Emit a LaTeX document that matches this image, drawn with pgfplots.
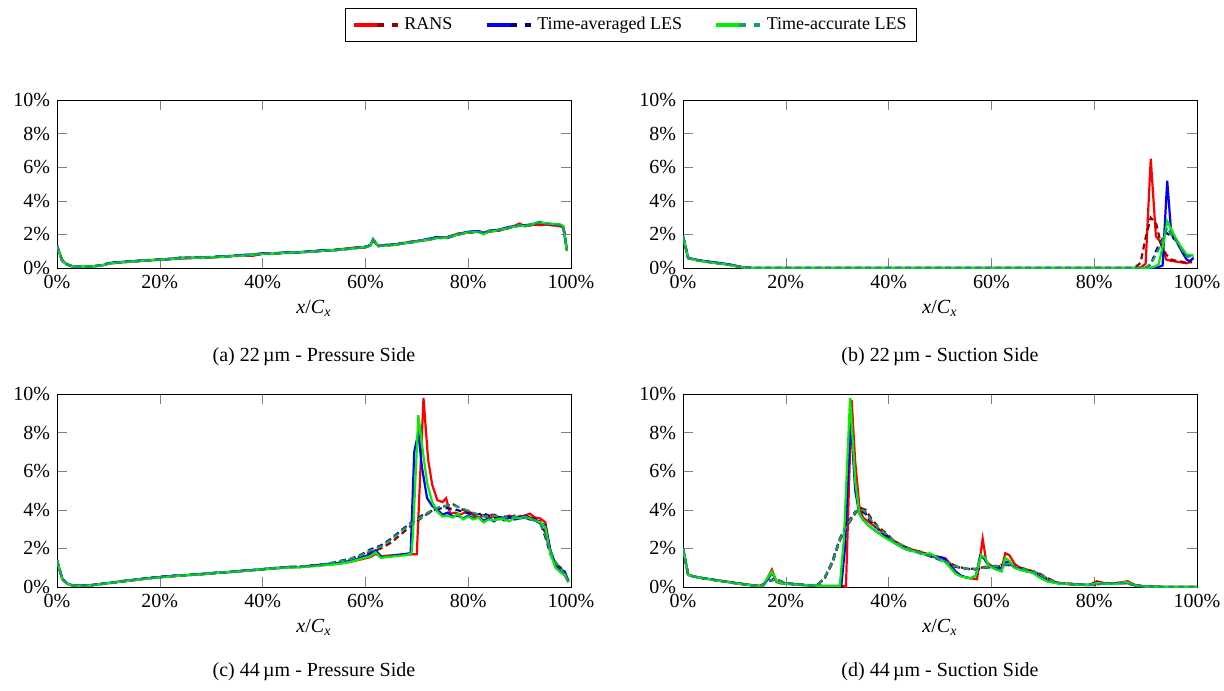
\documentclass[border=0pt]{standalone}
\usepackage{fontspec}
\setmainfont{Liberation Serif}
\usepackage{pgfplots}
\usepackage{pgfplotstable}
\pgfplotsset{compat=1.18}

\definecolor{rdark}{RGB}{150,0,0}
\definecolor{bdark}{RGB}{0,0,140}
\definecolor{gdark}{RGB}{20,160,100}
\definecolor{gbright}{RGB}{0,240,0}

\pgfplotsset{
  rs/.style={red, line width=1.1pt},
  rd/.style={rdark, line width=1.1pt, dash pattern=on 3pt off 2pt},
  bs/.style={blue, line width=1.1pt},
  bd/.style={bdark, line width=1.1pt, dash pattern=on 3pt off 2pt},
  gs/.style={gbright, line width=1.1pt},
  gd/.style={gdark, line width=1.1pt, dash pattern=on 3pt off 2pt},
  panel/.style={
    scale only axis,
    width=257pt,
    xmin=0, xmax=100, ymin=0, ymax=10,
    xtick={0,20,40,60,80,100},
    ytick={0,2,4,6,8,10},
    xticklabel={\pgfmathprintnumber{\tick}\%},
    yticklabel={\pgfmathprintnumber{\tick}\%},
    /pgf/number format/assume math mode=true,
    tick style={gray},
    major tick length=5pt,
    xlabel={\textit{x}/\textit{C}\textsubscript{\textit{x}}},
    xlabel style={yshift=1pt},
    tick label style={font=\normalsize},
    every axis plot/.append style={forget plot},
  },
}

% legend marker: bright solid part, then two short dark dashes
\newcommand{\legimg}[2]{%
  \draw[#1, line width=2.4pt] (0pt,0pt) -- (11.5pt,0pt);
  \draw[#2, line width=2.4pt] (11.5pt,0pt) -- (15pt,0pt);
  \draw[#2, line width=2.4pt] (19pt,0pt) -- (22pt,0pt);}

% panel (a): all six series on one grid
\pgfplotstableread{
x r rd b bd g gd
0 1.30 1.25 1.35 1.30 1.28 1.32
1 0.45 0.48 0.42 0.46 0.44 0.47
2 0.20 0.22 0.19 0.21 0.20 0.22
3 0.10 0.11 0.09 0.10 0.10 0.11
4 0.07 0.08 0.06 0.07 0.07 0.08
5 0.07 0.07 0.06 0.08 0.07 0.07
6 0.08 0.09 0.08 0.08 0.09 0.08
7 0.10 0.11 0.10 0.12 0.10 0.11
8 0.13 0.12 0.14 0.13 0.12 0.13
9 0.18 0.20 0.17 0.19 0.18 0.19
10 0.30 0.27 0.25 0.29 0.26 0.28
11 0.28 0.31 0.34 0.30 0.30 0.32
12 0.32 0.33 0.35 0.34 0.33 0.32
14 0.36 0.39 0.40 0.38 0.37 0.39
16 0.43 0.41 0.42 0.44 0.42 0.41
18 0.47 0.45 0.46 0.48 0.46 0.47
20 0.50 0.52 0.49 0.51 0.50 0.50
22 0.52 0.55 0.54 0.53 0.53 0.54
24 0.56 0.58 0.62 0.60 0.57 0.59
26 0.58 0.61 0.60 0.62 0.60 0.61
28 0.63 0.60 0.65 0.63 0.62 0.64
30 0.62 0.65 0.64 0.66 0.64 0.63
32 0.66 0.68 0.69 0.67 0.67 0.68
34 0.72 0.70 0.71 0.73 0.70 0.72
36 0.75 0.73 0.78 0.76 0.74 0.75
38 0.72 0.79 0.80 0.78 0.79 0.77
40 0.85 0.83 0.88 0.86 0.84 0.85
42 0.83 0.86 0.84 0.87 0.85 0.84
44 0.90 0.88 0.93 0.91 0.89 0.90
46 0.93 0.91 0.90 0.94 0.92 0.93
48 0.94 0.96 0.97 0.95 0.95 0.94
50 1.00 0.97 0.99 1.01 0.98 0.99
52 1.04 1.02 1.07 1.05 1.03 1.04
54 1.08 1.06 1.05 1.09 1.07 1.06
56 1.15 1.11 1.13 1.12 1.12 1.13
58 1.22 1.17 1.19 1.20 1.18 1.19
60 1.22 1.26 1.24 1.27 1.25 1.24
61 1.35 1.33 1.38 1.36 1.34 1.37
61.5 1.65 1.62 1.72 1.68 1.70 1.66
62.5 1.32 1.29 1.30 1.33 1.31 1.30
64 1.34 1.36 1.38 1.32 1.33 1.35
66 1.38 1.42 1.40 1.43 1.39 1.41
68 1.52 1.48 1.50 1.53 1.49 1.51
70 1.60 1.57 1.59 1.61 1.58 1.60
72 1.66 1.70 1.72 1.68 1.67 1.69
74 1.80 1.76 1.85 1.79 1.78 1.80
76 1.84 1.82 1.78 1.85 1.81 1.83
78 2.05 1.98 2.00 2.02 1.99 2.01
80 2.13 2.10 2.16 2.12 2.11 2.14
82 2.16 2.14 2.20 2.17 2.15 2.16
83 2.05 2.10 2.08 2.12 2.00 2.09
84 2.16 2.19 2.22 2.18 2.17 2.20
86 2.22 2.26 2.28 2.24 2.25 2.27
88 2.38 2.42 2.45 2.40 2.39 2.41
90 2.65 2.52 2.50 2.55 2.53 2.56
91 2.48 2.50 2.55 2.52 2.49 2.51
92 2.55 2.53 2.58 2.56 2.54 2.57
93 2.58 2.63 2.66 2.62 2.68 2.64
94 2.55 2.68 2.72 2.75 2.72 2.70
95 2.58 2.62 2.65 2.64 2.66 2.63
96 2.55 2.60 2.62 2.61 2.64 2.60
97 2.52 2.57 2.60 2.58 2.62 2.59
98 2.48 2.54 2.56 2.55 2.58 2.56
98.5 2.40 2.45 2.48 2.46 2.50 2.47
99.2 1.05 1.10 1.08 1.12 1.00 1.06
}\tablea

% panel (c): dashed series
\pgfplotstableread{
x rd bd gd
0 1.40 1.35 1.38
1 0.40 0.45 0.42
2 0.15 0.18 0.16
3 0.08 0.10 0.09
5 0.06 0.07 0.06
7 0.10 0.11 0.10
9 0.16 0.18 0.17
11 0.22 0.24 0.23
13 0.30 0.32 0.28
15 0.36 0.38 0.37
17 0.42 0.44 0.43
19 0.48 0.50 0.49
21 0.54 0.55 0.53
23 0.56 0.60 0.58
25 0.62 0.61 0.63
27 0.63 0.66 0.65
29 0.70 0.68 0.69
31 0.72 0.75 0.73
33 0.76 0.77 0.78
35 0.82 0.80 0.81
37 0.85 0.87 0.86
39 0.90 0.88 0.91
41 0.94 0.96 0.95
43 0.98 1.00 0.99
45 1.05 1.03 1.04
47 1.02 1.05 1.06
49 1.10 1.08 1.09
51 1.15 1.17 1.14
53 1.22 1.20 1.24
55 1.30 1.35 1.32
57 1.42 1.45 1.44
59 1.60 1.65 1.62
61 1.80 1.95 1.90
63 2.00 2.15 2.10
65 2.30 2.50 2.45
67 2.75 2.95 2.90
69 3.20 3.35 3.30
71 3.60 3.70 3.65
73 3.95 3.95 4.00
75 4.15 4.10 4.20
77 4.30 4.05 4.25
79 4.00 3.90 4.05
81 3.80 3.75 3.85
83 3.70 3.80 3.65
85 3.75 3.60 3.70
87 3.55 3.65 3.60
89 3.70 3.60 3.65
91 3.65 3.70 3.60
93 3.55 3.50 3.45
94 3.40 3.35 3.30
95 2.80 2.60 2.70
96 1.80 1.70 1.90
97 1.20 1.10 1.30
98 1.00 0.90 0.95
99.5 0.30 0.35 0.30
}\tablecd

\begin{document}
\begin{tikzpicture}
\path[use as bounding box] (0,0) rectangle (612pt,-345pt);

% ---------- (a) ----------
\begin{axis}[panel, height=84pt, at={(28.5pt,-134pt)}, anchor=south west,
  legend columns=3,
  legend style={at={(1.117,1.446)}, anchor=center, draw=black,
    font=\small, inner xsep=3pt, inner ysep=2.5pt,
    /tikz/every even column/.append style={column sep=14pt}},
  legend cell align={left}]
\addplot[rs] table[x=x,y=r] {\tablea};
\addplot[rd] table[x=x,y=rd] {\tablea};
\addplot[bs] table[x=x,y=b] {\tablea};
\addplot[bd] table[x=x,y=bd] {\tablea};
\addplot[gs] table[x=x,y=g] {\tablea};
\addplot[gd] table[x=x,y=gd] {\tablea};

\addlegendimage{legend image code/.code={\legimg{red}{rdark}}}
\addlegendentry{RANS}
\addlegendimage{legend image code/.code={\legimg{blue}{bdark}}}
\addlegendentry{Time-averaged LES}
\addlegendimage{legend image code/.code={\legimg{gbright}{gdark}}}
\addlegendentry{Time-accurate LES}
\end{axis}

% ---------- (b) ----------
\begin{axis}[panel, height=84pt, at={(341.5pt,-134pt)}, anchor=south west]
\addplot[rs] coordinates {(0,1.9) (1,0.6) (2,0.52) (3,0.45) (4,0.40) (5,0.36) (6,0.32) (7,0.28) (8,0.24) (9,0.20) (10,0.14) (11,0.08) (12,0.02) (14,0) (88,0) (89,0.02) (90,0.25) (91,6.5) (92,1.9) (93,1.5) (94,0.5) (95,0.42) (96,0.38) (97,0.33) (98,0.28) (99,0.4)};
\addplot[rd] coordinates {(0,1.85) (1,0.62) (2,0.5) (3,0.44) (4,0.40) (5,0.35) (6,0.31) (7,0.27) (8,0.23) (9,0.19) (10,0.13) (11,0.07) (12,0.02) (14,0) (87,0) (88,0.05) (89,0.3) (90,1.8) (91,3.0) (92,2.7) (93,1.4) (94,0.8) (95,0.5) (96,0.42) (97,0.38) (98,0.3) (99,0.35)};
\addplot[bs] coordinates {(0,1.9) (1,0.58) (2,0.53) (3,0.47) (4,0.42) (5,0.38) (6,0.34) (7,0.30) (8,0.26) (9,0.21) (10,0.15) (11,0.08) (12,0.02) (14,0) (92,0) (93.3,0.15) (94.2,5.2) (95,2.0) (96,1.6) (97,1.0) (98,0.5) (98.6,0.4) (99.3,0.6)};
\addplot[bd] coordinates {(0,1.88) (1,0.6) (2,0.52) (3,0.46) (4,0.41) (5,0.37) (6,0.33) (7,0.29) (8,0.25) (9,0.2) (10,0.14) (11,0.07) (12,0.02) (14,0) (90,0) (91,0.2) (92,1.0) (93,1.6) (94,2.1) (95,1.9) (96,1.6) (97,1.1) (98,0.7) (99.3,0.65)};
\addplot[gs] coordinates {(0,1.9) (1,0.6) (2,0.5) (3,0.44) (4,0.39) (5,0.35) (6,0.3) (7,0.26) (8,0.22) (9,0.18) (10,0.12) (11,0.06) (12,0.02) (14,0) (90,0) (91.5,0.05) (92.5,0.2) (93.5,1.5) (94.2,2.8) (95,2.3) (96,1.7) (97,1.2) (98,0.8) (99.3,0.75)};
\addplot[gd] coordinates {(0,1.88) (1,0.6) (2,0.51) (3,0.45) (4,0.4) (5,0.36) (6,0.31) (7,0.27) (8,0.23) (9,0.19) (10,0.13) (11,0.07) (12,0.02) (14,0) (89.5,0) (90.5,0.1) (91.5,0.5) (92.5,1.1) (93.5,1.8) (94.2,2.4) (95,2.0) (96,1.6) (97,1.1) (98,0.7) (99.3,0.7)};
\end{axis}

% ---------- (c) ----------
\begin{axis}[panel, height=96.5pt, at={(28.5pt,-293.5pt)}, anchor=south west]
\addplot[rs] coordinates {(0,1.4) (1,0.42) (2,0.16) (3,0.08) (5,0.06) (7,0.10) (9,0.17) (11,0.23) (13,0.30) (15,0.37) (17,0.43) (19,0.48) (21,0.54) (23,0.57) (25,0.61) (27,0.64) (29,0.68) (31,0.72) (33,0.77) (35,0.80) (37,0.85) (39,0.90) (41,0.94) (43,0.97) (45,1.02) (47,1.04) (49,1.07) (51,1.12) (53,1.17) (55,1.22) (57,1.30) (59,1.42) (61,1.55) (62,1.72) (63,1.55) (64,1.62) (66,1.66) (68,1.68) (70,1.70) (71.3,9.8) (72.2,6.6) (73,5.3) (74,4.5) (75,4.4) (75.7,4.6) (76.5,3.8) (77.5,3.85) (78.5,3.75) (80,3.95) (81,3.7) (82,3.6) (83,3.7) (84,3.55) (85,3.65) (86,3.5) (87,3.6) (88,3.7) (89,3.55) (90,3.6) (91,3.7) (92,3.8) (93,3.6) (94,3.55) (95,3.35) (96,1.8) (97,1.0) (98,0.8) (98.8,0.6) (99.5,0.25)};
\addplot[rd] table[x=x,y=rd] {\tablecd};
\addplot[bs] coordinates {(0,1.38) (1,0.44) (2,0.17) (3,0.09) (5,0.07) (7,0.11) (9,0.18) (11,0.24) (13,0.31) (15,0.36) (17,0.44) (19,0.49) (21,0.53) (23,0.58) (25,0.62) (27,0.65) (29,0.69) (31,0.74) (33,0.76) (35,0.81) (37,0.86) (39,0.89) (41,0.95) (43,0.99) (45,1.04) (47,1.03) (49,1.09) (51,1.14) (53,1.18) (55,1.25) (57,1.35) (59,1.5) (61,1.7) (62,1.9) (63,1.6) (64,1.55) (66,1.65) (68,1.72) (68.8,1.75) (69.5,7.0) (70.3,8.0) (71,6.2) (72,4.6) (73,4.2) (74,4.0) (75,3.75) (76,3.85) (77,3.65) (78,3.7) (79,3.55) (80,3.7) (81,3.55) (82,3.6) (83,3.45) (84,3.55) (85,3.4) (86,3.6) (87,3.45) (88,3.6) (89,3.5) (90,3.55) (91,3.6) (92,3.5) (93,3.45) (94,3.3) (95,3.2) (96,1.9) (97,1.1) (98,0.9) (98.8,0.8) (99.5,0.3)};
\addplot[bd] table[x=x,y=bd] {\tablecd};
\addplot[gs] coordinates {(0,1.39) (1,0.43) (2,0.16) (3,0.08) (5,0.06) (7,0.10) (9,0.17) (11,0.23) (13,0.29) (15,0.37) (17,0.42) (19,0.48) (21,0.52) (23,0.57) (25,0.61) (27,0.64) (29,0.68) (31,0.73) (33,0.77) (35,0.80) (37,0.84) (39,0.90) (41,0.93) (43,0.98) (45,1.01) (47,1.02) (49,1.06) (51,1.10) (53,1.15) (55,1.20) (57,1.30) (59,1.45) (61,1.6) (62,1.8) (63,1.5) (64,1.55) (66,1.6) (68,1.65) (69,1.75) (69.3,3.0) (70.3,8.9) (71,7.4) (72,5.4) (73,4.4) (74,3.9) (75,3.65) (76,3.7) (77,3.6) (78,3.8) (79,3.5) (80,3.65) (81,3.5) (82,3.6) (83,3.35) (84,3.5) (85,3.45) (86,3.55) (87,3.5) (88,3.4) (89,3.6) (90,3.55) (91,3.65) (92,3.55) (93,3.45) (94,3.35) (95,3.1) (96,1.7) (97,1.0) (98,0.75) (98.8,0.65) (99.5,0.25)};
\addplot[gd] table[x=x,y=gd] {\tablecd};
\end{axis}

% ---------- (d) ----------
\begin{axis}[panel, height=96.5pt, at={(341.5pt,-293.5pt)}, anchor=south west]
\addplot[rs] coordinates {(0,2.0) (1,0.65) (2,0.55) (4,0.45) (6,0.38) (8,0.30) (10,0.22) (12,0.15) (14,0.08) (15.5,0.05) (16.5,0.5) (17.3,0.9) (18.2,0.25) (19,0.2) (21,0.15) (23,0.12) (25,0.08) (27,0.06) (29,0.05) (31.5,0.05) (31.7,0) (32.8,9.7) (33.5,6.5) (34.3,4.2) (35,3.6) (36,3.4) (37,3.2) (38,3.0) (39,2.8) (40,2.6) (41,2.4) (42,2.25) (43,2.1) (44,2.0) (45,1.9) (46,1.85) (47,1.75) (48,1.65) (49,1.55) (50,1.55) (51,1.5) (52,1.2) (53,0.8) (54,0.6) (55,0.5) (56,0.45) (57.2,0.4) (58.3,2.5) (59,1.3) (60,1.1) (61,1.0) (62,0.95) (62.7,1.75) (63.5,1.65) (64.5,1.2) (65.5,1.0) (67,0.9) (68,0.8) (69,0.6) (70,0.45) (71,0.3) (73,0.2) (75,0.15) (77,0.12) (79,0.1) (80.5,0.3) (82,0.2) (84,0.2) (85.5,0.25) (86.5,0.3) (88,0.1) (90,0.02) (95,0) (100,0)};
\addplot[rd] coordinates {(0,2.0) (1,0.65) (2,0.55) (4,0.45) (6,0.37) (8,0.29) (10,0.21) (12,0.14) (14,0.07) (15,0.05) (16.5,0.3) (18,0.45) (19,0.3) (20,0.2) (22,0.15) (24,0.1) (26,0.08) (27.5,0.4) (29,1.2) (30.5,2.4) (32,3.2) (33.5,3.8) (34.5,4.1) (35.5,4.0) (36.5,3.6) (38,3.1) (39.5,2.8) (41,2.4) (43,2.1) (45,1.9) (47,1.75) (49,1.55) (51,1.35) (53,1.1) (55,0.95) (57,0.95) (59,1.05) (61,1.1) (63,1.2) (65,1.05) (67,0.9) (69,0.75) (71,0.45) (73,0.22) (75,0.18) (78,0.12) (80,0.12) (82,0.2) (84,0.2) (86,0.22) (88,0.1) (90,0.02) (95,0) (100,0)};
\addplot[bs] coordinates {(0,2.0) (1,0.62) (2,0.55) (4,0.46) (6,0.37) (8,0.29) (10,0.21) (12,0.14) (14,0.07) (15.5,0.05) (16.5,0.4) (17.3,0.75) (18.2,0.3) (19,0.2) (21,0.15) (23,0.1) (25,0.08) (27,0.06) (29,0.05) (30.8,0.05) (31.5,2.0) (32.6,8.8) (33.5,5.0) (34.3,3.8) (35,3.5) (36,3.2) (37,3.0) (38,2.8) (39,2.7) (40,2.5) (41,2.3) (42,2.15) (43,2.0) (44,1.9) (45,1.85) (46,1.75) (47,1.7) (48,1.6) (49,1.6) (50,1.55) (51,1.45) (52,1.1) (53,0.8) (54,0.6) (55,0.5) (56,0.45) (57,0.6) (57.8,1.6) (58.5,1.5) (59.5,1.1) (61,0.9) (62,1.0) (62.7,1.3) (63.5,1.3) (64.5,1.0) (66,0.9) (67,0.8) (68,0.75) (69,0.6) (70,0.45) (71,0.3) (73,0.2) (75,0.15) (77,0.12) (79,0.1) (80.5,0.22) (82,0.2) (84,0.18) (86,0.22) (87,0.2) (88,0.08) (90,0.02) (95,0) (100,0)};
\addplot[bd] coordinates {(0,1.98) (1,0.63) (2,0.54) (4,0.44) (6,0.36) (8,0.28) (10,0.2) (12,0.13) (14,0.06) (15,0.05) (16.5,0.28) (18,0.4) (19,0.28) (20,0.2) (22,0.14) (24,0.1) (26,0.09) (27.5,0.45) (29,1.3) (30.5,2.5) (32,3.3) (33.5,3.9) (34.5,4.0) (35.5,3.8) (36.5,3.4) (38,3.0) (39.5,2.7) (41,2.35) (43,2.1) (45,1.85) (47,1.7) (49,1.5) (51,1.3) (53,1.05) (55,0.95) (57,0.9) (59,1.0) (61,1.05) (63,1.15) (65,1.0) (67,0.85) (69,0.7) (71,0.4) (73,0.2) (75,0.16) (78,0.12) (80,0.1) (82,0.18) (84,0.18) (86,0.2) (88,0.08) (90,0.02) (95,0) (100,0)};
\addplot[gs] coordinates {(0,2.0) (1,0.63) (2,0.55) (4,0.45) (6,0.36) (8,0.28) (10,0.2) (12,0.13) (14,0.06) (15.5,0.05) (16.5,0.5) (17.3,0.8) (18.2,0.3) (19,0.2) (21,0.15) (23,0.1) (25,0.08) (27,0.06) (29,0.05) (30.5,0.05) (31.3,2.5) (32.5,9.8) (33.5,5.5) (34.3,3.8) (35,3.5) (36,3.2) (37,3.0) (38,2.8) (39,2.6) (40,2.45) (41,2.3) (42,2.15) (43,2.0) (44,1.9) (45,1.85) (46,1.75) (47,1.7) (48,1.75) (49,1.6) (50,1.4) (51,1.3) (52,1.0) (53,0.7) (54,0.55) (55,0.5) (56,0.45) (57,0.6) (58,1.65) (58.8,1.5) (59.5,1.1) (61,0.9) (62,0.8) (62.7,1.5) (63.5,1.35) (64.5,1.0) (66,0.85) (67,0.8) (68,0.75) (69,0.55) (70,0.4) (71,0.28) (73,0.18) (75,0.15) (77,0.12) (79,0.1) (80.5,0.2) (82,0.18) (84,0.15) (86,0.25) (87,0.2) (88,0.08) (90,0.02) (95,0) (100,0)};
\addplot[gd] coordinates {(0,1.99) (1,0.64) (2,0.55) (4,0.45) (6,0.37) (8,0.28) (10,0.21) (12,0.14) (14,0.07) (15,0.05) (16.5,0.3) (18,0.42) (19,0.3) (20,0.2) (22,0.15) (24,0.1) (26,0.08) (27.5,0.42) (29,1.25) (30.5,2.45) (32,3.25) (33.5,3.85) (34.5,4.05) (35.5,3.9) (36.5,3.5) (38,3.05) (39.5,2.75) (41,2.4) (43,2.1) (45,1.88) (47,1.72) (49,1.52) (51,1.32) (53,1.08) (55,0.95) (57,0.92) (59,1.02) (61,1.08) (63,1.18) (65,1.02) (67,0.88) (69,0.72) (71,0.42) (73,0.21) (75,0.17) (78,0.12) (80,0.11) (82,0.19) (84,0.19) (86,0.21) (88,0.09) (90,0.02) (95,0) (100,0)};
\end{axis}

% captions
\node at (157pt,-178.5pt) {(a) 22\,µm - Pressure Side};
\node at (470pt,-178.5pt) {(b) 22\,µm - Suction Side};
\node at (157pt,-336pt) {(c) 44\,µm - Pressure Side};
\node at (470pt,-336pt) {(d) 44\,µm - Suction Side};
\end{tikzpicture}
\end{document}
